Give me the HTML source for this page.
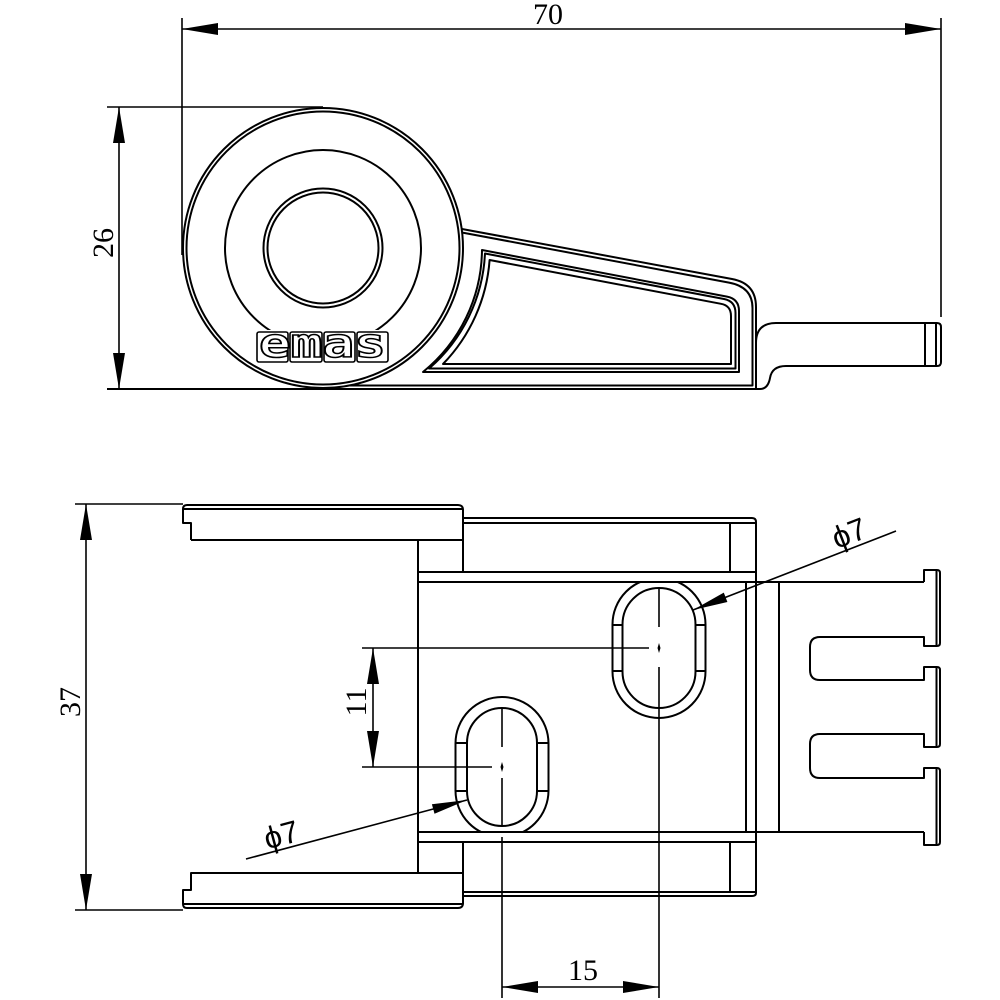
<!DOCTYPE html>
<html><head><meta charset="utf-8"><style>html,body{margin:0;padding:0;background:#fff}svg{display:block}</style></head>
<body>
<svg width="1000" height="1000" viewBox="0 0 1000 1000" xmlns="http://www.w3.org/2000/svg">
<defs>
<clipPath id="cu"><rect x="400" y="582" width="400" height="300"/></clipPath>
<clipPath id="cl"><rect x="400" y="600" width="400" height="232"/></clipPath>
</defs>
<rect width="1000" height="1000" fill="#fff"/>

<!-- ===== TOP VIEW ===== -->
<g fill="none" stroke="#000" stroke-width="1.6">
  <line x1="182" y1="29" x2="941" y2="29"/>
  <line x1="182" y1="18" x2="182" y2="255"/>
  <line x1="941" y1="18" x2="941" y2="317"/>
  <line x1="107" y1="107" x2="323" y2="107"/>
  <line x1="119" y1="107" x2="119" y2="389"/>
</g>
<g fill="#000" stroke="none">
  <polygon points="182,29 218,23 218,35"/>
  <polygon points="941,29 905,23 905,35"/>
  <polygon points="119,107 113,143 125,143"/>
  <polygon points="119,389 113,353 125,353"/>
</g>
<g font-family="'Liberation Serif', serif" font-size="30" fill="#000" text-anchor="middle">
  <text x="548" y="24">70</text>
  <text transform="translate(113,243) rotate(-90)">26</text>
</g>

<g fill="none" stroke="#000" stroke-width="2" stroke-linejoin="round">
  <line x1="107" y1="389" x2="760" y2="389"/>
  <circle cx="323" cy="248" r="140"/>
  <circle cx="323" cy="248" r="136.5"/>
  <circle cx="323" cy="248" r="98"/>
  <circle cx="323" cy="248" r="59.5"/>
  <circle cx="323" cy="248" r="55.5"/>
  <path d="M462,229 L732,279 Q756,283.4 756,307 L756,389"/>
  <path d="M462.5,232.6 L729,282.6 Q752.5,286.9 752.5,308 L752.5,385.5 L350,385.5"/>
  <path d="M482,250 L727,296.6 Q739,298.9 739,311 L739,372 L423,372 A159,159 0 0 0 482,250 Z"/>
  <path d="M485,253.5 L724,299 Q735.5,301.3 735.5,313 L735.5,368.5 L429,368.5 A162,162 0 0 0 485,253.5 Z"/>
  <path d="M489.6,260 L721,303.8 Q731,305.6 731,316 L731,364 L443,364 A167,167 0 0 0 489.6,260 Z"/>
  <path d="M756,343 Q756,323 776,323 L937,323 Q941,323 941,327 L941,362 Q941,366 937,366 L786,366 Q772,366 770,378 Q768,389 760,389"/>
  <line x1="925" y1="323" x2="925" y2="366"/>
  <line x1="936" y1="323" x2="936" y2="366"/>
</g>
<!-- emas logo -->
<rect x="255" y="330" width="136" height="34" fill="#fff"/>
<g fill="none" stroke="#000" stroke-width="1.6">
  <rect x="257" y="332" width="31" height="30" rx="2"/>
  <rect x="290" y="332" width="32" height="30" rx="2"/>
  <rect x="324" y="332" width="31" height="30" rx="2"/>
  <rect x="357" y="332" width="31" height="30" rx="2"/>
</g>
<text x="259" y="357" textLength="127" lengthAdjust="spacingAndGlyphs" font-family="'DejaVu Sans Mono', monospace" font-weight="bold" font-size="40" fill="#fff" stroke="#000" stroke-width="1.5">emas</text>

<!-- ===== BOTTOM VIEW ===== -->
<g fill="none" stroke="#000" stroke-width="1.6">
  <line x1="75" y1="504" x2="183" y2="504"/>
  <line x1="75" y1="910" x2="183" y2="910"/>
  <line x1="86" y1="504" x2="86" y2="910"/>
  <line x1="362" y1="648" x2="649" y2="648"/>
  <line x1="362" y1="767" x2="492" y2="767"/>
  <line x1="373" y1="648" x2="373" y2="767"/>
  <line x1="502" y1="987" x2="659" y2="987"/>
  <line x1="659" y1="588" x2="659" y2="627"/>
  <line x1="659" y1="667" x2="659" y2="998"/>
  <line x1="502" y1="708" x2="502" y2="747"/>
  <line x1="502" y1="778" x2="502" y2="826"/>
  <line x1="502" y1="837" x2="502" y2="998"/>
  <line x1="896" y1="531" x2="693" y2="610"/>
  <line x1="246" y1="859" x2="467" y2="800"/>
</g>
<g fill="#000" stroke="none">
  <polygon points="86,504 80,540 92,540"/>
  <polygon points="86,910 80,874 92,874"/>
  <polygon points="373,648 367,684 379,684"/>
  <polygon points="373,767 367,731 379,731"/>
  <polygon points="502,987 538,981 538,993"/>
  <polygon points="659,987 623,981 623,993"/>
  <polygon points="693,610 727.4,602 723.8,592.6"/>
  <polygon points="467,800 434.5,813.8 431.9,804.2"/>
  <polygon points="659,643 660.5,648 659,653 657.5,648"/>
  <polygon points="502,762 503.5,767 502,772 500.5,767"/>
</g>
<g font-family="'Liberation Serif', serif" font-size="30" fill="#000" text-anchor="middle">
  <text transform="translate(80,702) rotate(-90)">37</text>
  <text transform="translate(366,702) rotate(-90)">11</text>
  <text x="583" y="980">15</text>
</g>
<g font-family="'Liberation Sans', 'DejaVu Sans', sans-serif" font-size="31" fill="#000" text-anchor="middle">
  <text transform="translate(853,543) rotate(-21.3)">ϕ7</text>
  <text transform="translate(284,845) rotate(-15)">ϕ7</text>
</g>

<g fill="none" stroke="#000" stroke-width="2" stroke-linejoin="round">
  <path d="M191,540 L191,523 L183,523 L183,509 Q183,505 187,505 L458,505 Q463,505 463,510 L463,571"/>
  <line x1="183" y1="509" x2="463" y2="509"/>
  <line x1="191" y1="540" x2="463" y2="540"/>
  <path d="M463,518 L752,518 Q756,518 756,522 L756,893 Q756,896 752,896 L463,896"/>
  <line x1="463" y1="523" x2="756" y2="523"/>
  <line x1="730" y1="523" x2="730" y2="572"/>
  <line x1="418" y1="572" x2="756" y2="572"/>
  <line x1="418" y1="582" x2="924" y2="582"/>
  <line x1="418" y1="540" x2="418" y2="873"/>
  <line x1="746" y1="582" x2="746" y2="832"/>
  <line x1="779" y1="582" x2="779" y2="832"/>
  <line x1="418" y1="832" x2="924" y2="832"/>
  <line x1="418" y1="842" x2="756" y2="842"/>
  <line x1="463" y1="842" x2="463" y2="904"/>
  <line x1="463" y1="892" x2="756" y2="892"/>
  <line x1="730" y1="842" x2="730" y2="892"/>
  <path d="M463,873 L191,873 L191,890 L183,890 L183,904 Q183,908 187,908 L458,908 Q463,908 463,903"/>
  <line x1="183" y1="904" x2="463" y2="904"/>
  <path d="M924,582 L924,570 L937,570 Q940,570 940,573 L940,643 Q940,646 937,646 L924,646 L924,637 L820,637 Q810,637 810,647 L810,670 Q810,680 820,680 L924,680 L924,667 L937,667 Q940,667 940,670 L940,744 Q940,747 937,747 L924,747 L924,734 L820,734 Q810,734 810,744 L810,768 Q810,778 820,778 L924,778 L924,768 L937,768 Q940,768 940,771 L940,842 Q940,845 937,845 L924,845 L924,832"/>
  <line x1="936.5" y1="571" x2="936.5" y2="645"/>
  <line x1="936.5" y1="668" x2="936.5" y2="746"/>
  <line x1="936.5" y1="769" x2="936.5" y2="844"/>
  <path clip-path="url(#cu)" d="M612.5,624.5 A46.5,46.5 0 0 1 705.5,624.5 L705.5,671.5 A46.5,46.5 0 0 1 612.5,671.5 Z"/>
  <path d="M622.5,624.5 A36.5,36.5 0 0 1 695.5,624.5 L695.5,671.5 A36.5,36.5 0 0 1 622.5,671.5 Z"/>
  <line x1="612.5" y1="625" x2="622.5" y2="625"/>
  <line x1="612.5" y1="671" x2="622.5" y2="671"/>
  <line x1="695.5" y1="625" x2="705.5" y2="625"/>
  <line x1="695.5" y1="671" x2="705.5" y2="671"/>
  <path clip-path="url(#cl)" d="M455.5,743.5 A46.5,46.5 0 0 1 548.5,743.5 L548.5,790.5 A46.5,46.5 0 0 1 455.5,790.5 Z"/>
  <path d="M467,743 A35,35 0 0 1 537,743 L537,791 A35,35 0 0 1 467,791 Z"/>
  <line x1="455.5" y1="743" x2="467" y2="743"/>
  <line x1="455.5" y1="791" x2="467" y2="791"/>
  <line x1="537" y1="743" x2="548.5" y2="743"/>
  <line x1="537" y1="791" x2="548.5" y2="791"/>
</g>
</svg>
</body></html>
